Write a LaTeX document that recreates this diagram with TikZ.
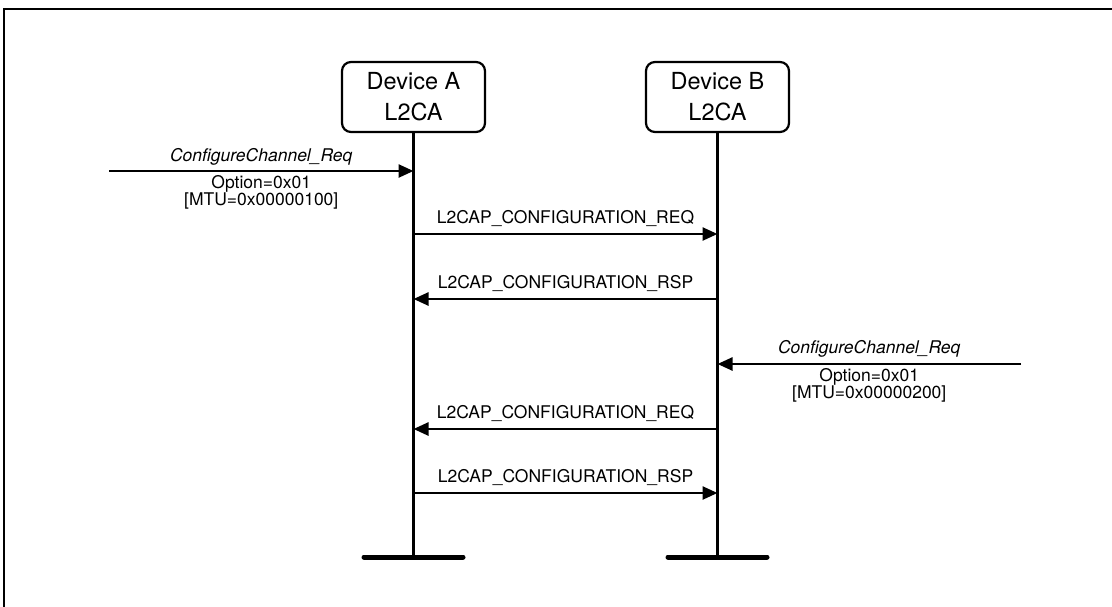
\documentclass[tikz,border=0pt]{standalone}
\usepackage{fontspec}
\setmainfont{TeX Gyre Heros}
\usetikzlibrary{arrows.meta}
\begin{document}
\begin{tikzpicture}[x=1pt,y=-1pt,
  dev/.style={draw, line width=2.2pt, rounded corners=9pt, minimum width=143pt, minimum height=70pt, align=center, font=\fontsize{23.5}{31}\selectfont, inner sep=0pt},
  msg/.style={line width=2.5pt, -{Triangle[length=15pt,width=13pt]}},
  life/.style={line width=2.3pt},
  bar/.style={line width=5pt, line cap=round},
  lbl/.style={font=\fontsize{17.5}{17}\selectfont, inner sep=0pt, align=center},
  ilbl/.style={font=\fontsize{17.5}{17}\selectfont\itshape, inner sep=0pt}
]
\useasboundingbox (0,0) rectangle (1112,606);
\draw[line width=2.8pt] (4,9) rectangle (1200,700);

\node[dev] (A) at (413.5,97) {Device A\\L2CA};
\node[dev] (B) at (717.5,97) {Device B\\L2CA};
\coordinate (Aend) at (413.5,557);
\coordinate (Bend) at (717.5,557);
\draw[life] (A.south) -- (Aend);
\draw[life] (B.south) -- (Bend);
\draw[bar] ([xshift=-49.5pt]Aend) -- ([xshift=49.5pt]Aend);
\draw[bar] ([xshift=-49.5pt]Bend) -- ([xshift=49.5pt]Bend);

% message 1
\coordinate (s1) at (109,171);
\coordinate (a1) at (413.5,171);
\draw[msg] (s1) -- node[ilbl, yshift=14pt] {ConfigureChannel\_Req}
  node[lbl, yshift=-21pt] {Option=0x01\\{[MTU=0x00000100]}} (a1);

% message 2
\coordinate (a2) at (413.5,234);
\coordinate (b2) at (717.5,234);
\draw[msg] (a2) -- node[lbl, yshift=15pt] {L2CAP\_CONFIGURATION\_REQ} (b2);

% message 3
\coordinate (b3) at (717.5,299);
\coordinate (a3) at (413.5,299);
\draw[msg] (b3) -- node[lbl, yshift=15pt] {L2CAP\_CONFIGURATION\_RSP} (a3);

% message 4
\coordinate (s4) at (1021,364);
\coordinate (b4) at (717.5,364);
\draw[msg] (s4) -- node[ilbl, yshift=15pt] {ConfigureChannel\_Req}
  node[lbl, yshift=-21.5pt] {Option=0x01\\{[MTU=0x00000200]}} (b4);

% message 5
\coordinate (b5) at (717.5,429);
\coordinate (a5) at (413.5,429);
\draw[msg] (b5) -- node[lbl, yshift=15pt] {L2CAP\_CONFIGURATION\_REQ} (a5);

% message 6
\coordinate (a6) at (413.5,493);
\coordinate (b6) at (717.5,493);
\draw[msg] (a6) -- node[lbl, yshift=15pt] {L2CAP\_CONFIGURATION\_RSP} (b6);
\end{tikzpicture}
\end{document}
